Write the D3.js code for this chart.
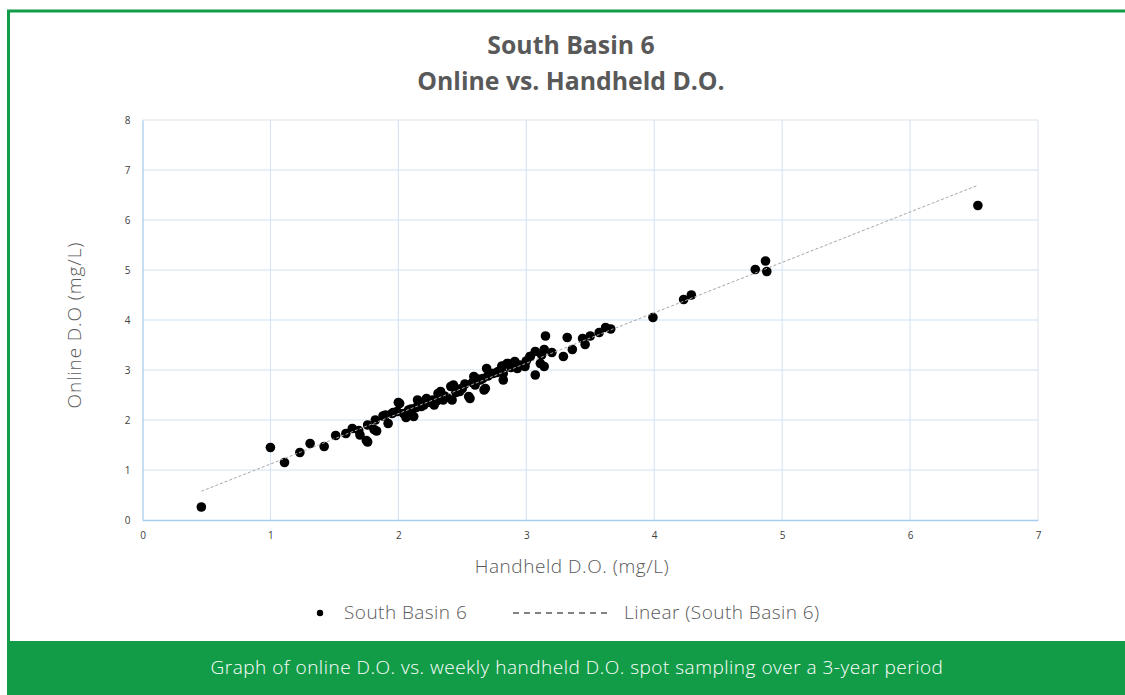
<!DOCTYPE html>
<html>
<head>
<meta charset="utf-8">
<script src="https://cdn.jsdelivr.net/npm/d3@7"></script>
<style>
  html, body { margin: 0; padding: 0; background: #fff; }
  svg { display: block; }
</style>
</head>
<body>
<svg id="chart" width="1125" height="695"></svg>
<script>
// handheld D.O. readings (mg/L)
const handheld = [
  0.46, 1.00, 1.11, 1.23, 1.31, 1.42, 1.51, 1.59, 1.64, 1.69, 1.70, 1.75, 1.76, 1.76,
  1.81, 1.83, 1.82, 1.88, 1.92, 1.95, 1.99, 2.00, 1.90, 1.96, 2.01, 2.04, 2.08, 2.12,
  2.15, 2.18, 2.22, 2.28, 2.31, 2.35, 2.41, 2.42, 2.46, 2.50, 2.55, 2.59, 2.64, 2.67,
  2.69, 2.74, 2.81, 2.82, 2.33, 2.43, 2.48, 2.56, 2.68, 2.81, 2.85, 2.91, 2.99, 3.03,
  3.07, 2.86, 2.93, 2.82, 2.73, 3.07, 3.12, 3.11, 3.14, 3.14, 3.03, 3.20, 3.29, 3.36,
  3.32, 3.44, 3.46, 3.50, 3.57, 3.62, 3.66, 3.15, 2.10, 2.25, 2.38, 2.52, 2.62, 2.77,
  2.95, 2.06, 2.20, 2.30, 2.45, 2.58, 2.70, 2.88, 2.14, 2.27, 2.36, 2.48, 2.60, 2.66,
  2.78, 3.00, 3.99, 4.23, 4.29, 4.79, 4.87, 4.88, 6.53
];
// online D.O. readings (mg/L), paired with handheld
const online = [
  0.26, 1.45, 1.15, 1.35, 1.53, 1.47, 1.69, 1.73, 1.83, 1.79, 1.70, 1.59, 1.90, 1.56,
  1.81, 1.78, 2.00, 2.08, 1.93, 2.13, 2.17, 2.35, 2.10, 2.15, 2.33, 2.13, 2.20, 2.07,
  2.40, 2.27, 2.43, 2.30, 2.53, 2.40, 2.67, 2.40, 2.57, 2.63, 2.47, 2.87, 2.80, 2.60,
  3.03, 2.93, 3.08, 2.80, 2.57, 2.70, 2.57, 2.43, 2.63, 3.07, 3.13, 3.17, 3.07, 3.27,
  2.90, 3.13, 3.03, 2.93, 2.93, 3.37, 3.30, 3.13, 3.41, 3.07, 3.27, 3.35, 3.27, 3.41,
  3.65, 3.63, 3.51, 3.68, 3.75, 3.85, 3.82, 3.68, 2.22, 2.35, 2.45, 2.72, 2.82, 2.95,
  3.10, 2.05, 2.30, 2.38, 2.55, 2.75, 2.88, 3.05, 2.25, 2.40, 2.48, 2.62, 2.70, 2.83,
  2.97, 3.18, 4.05, 4.41, 4.50, 5.01, 5.18, 4.97, 6.29
];

const xTicks = [0, 1, 2, 3, 4, 5, 6, 7];
const yTicks = [0, 1, 2, 3, 4, 5, 6, 7, 8];

const titleLines = ["South Basin 6", "Online vs. Handheld D.O."];
const xTitle = "Handheld D.O. (mg/L)";
const yTitle = "Online D.O (mg/L)";
const seriesName = "South Basin 6";
const trendName = "Linear (South Basin 6)";
const caption = "Graph of online D.O. vs. weekly handheld D.O. spot sampling over a 3-year period";

const green = "#139c48";
const lightFont = "'Open Sans', sans-serif";
const svg = d3.select("#chart");

const lightText = (sel, size, spacing) => sel
  .style("font-family", lightFont)
  .style("font-weight", 300)
  .style("font-size", size + "px")
  .style("letter-spacing", spacing + "px");

// frame
svg.append("rect")
  .attr("x", 8.5).attr("y", 11)
  .attr("width", 1130).attr("height", 640)
  .attr("fill", "#fff")
  .attr("stroke", green)
  .attr("stroke-width", 3);

svg.append("rect")
  .attr("x", 7).attr("y", 641)
  .attr("width", 1118).attr("height", 54)
  .attr("fill", green);

svg.append("text")
  .attr("x", 577).attr("y", 674)
  .attr("text-anchor", "middle")
  .attr("fill", "#fff")
  .call(lightText, 19, 0.5)
  .text(caption);

// title
svg.append("g").selectAll("text")
  .data(titleLines)
  .join("text")
  .attr("x", 571)
  .attr("y", (d, i) => 54 + i * 36)
  .attr("text-anchor", "middle")
  .attr("fill", "#595959")
  .style("font-family", "'Open Sans', sans-serif")
  .style("font-weight", "bold")
  .style("font-size", "24.8px")
  .text(d => d);

const margins = { left: 142.5, top: 120, right: 1038, bottom: 520 };

const x = d3.scaleLinear().domain([0, 7]).range([margins.left, margins.right]);
const y = d3.scaleLinear().domain([0, 8]).range([margins.bottom, margins.top]);

// grid
const grid = svg.append("g").attr("class", "grid");
grid.selectAll(".vx")
  .data(xTicks.slice(1))
  .join("line")
  .attr("x1", d => x(d)).attr("x2", d => x(d))
  .attr("y1", y(0)).attr("y2", y(8))
  .attr("stroke", d => d === 7 ? "#dbe2ea" : "#cfe2f5")
  .attr("stroke-width", 1);
grid.selectAll(".hy")
  .data(yTicks.slice(1))
  .join("line")
  .attr("x1", x(0)).attr("x2", x(7))
  .attr("y1", d => y(d)).attr("y2", d => y(d))
  .attr("stroke", d => d === 8 ? "#dbe2ea" : "#cfe2f5")
  .attr("stroke-width", 1);

// axes
const xAxis = svg.append("g")
  .attr("transform", `translate(0,${y(0)})`)
  .call(d3.axisBottom(x).tickValues(xTicks).tickFormat(d3.format("d")).tickSize(0).tickPadding(12));
const yAxis = svg.append("g")
  .attr("transform", `translate(${x(0)},0)`)
  .call(d3.axisLeft(y).tickValues(yTicks).tickFormat(d3.format("d")).tickSize(0).tickPadding(12));

[xAxis, yAxis].forEach(a => {
  a.select(".domain").attr("stroke", "#a9cdf0").attr("stroke-width", 1.3);
  a.selectAll("text")
    .attr("fill", "#404040")
    .style("font-family", "'Open Sans', sans-serif")
    .style("font-size", "10px");
});

svg.append("text")
  .attr("x", 572).attr("y", 573)
  .attr("text-anchor", "middle")
  .attr("fill", "#595959")
  .call(lightText, 19, 0.55)
  .text(xTitle);

svg.append("text")
  .attr("transform", `translate(81,325) rotate(-90)`)
  .attr("text-anchor", "middle")
  .attr("fill", "#595959")
  .call(lightText, 19, 0.9)
  .text(yTitle);

// linear fit
const mx = d3.mean(handheld), my = d3.mean(online);
const slope = d3.sum(handheld, (v, i) => (v - mx) * (online[i] - my)) /
  d3.sum(handheld, v => (v - mx) * (v - mx));
const intercept = my - slope * mx;
const xExt = d3.extent(handheld);

const points = handheld.map((h, i) => ({ h, o: online[i] }));

svg.append("g").selectAll("circle")
  .data(points)
  .join("circle")
  .attr("cx", d => x(d.h))
  .attr("cy", d => y(d.o))
  .attr("r", 4.8)
  .attr("fill", "#000");

svg.append("line")
  .attr("x1", x(xExt[0])).attr("y1", y(intercept + slope * xExt[0]))
  .attr("x2", x(xExt[1])).attr("y2", y(intercept + slope * xExt[1]))
  .attr("stroke", "#a6a6a6")
  .attr("stroke-width", 1)
  .attr("stroke-dasharray", "3,2");

// legend
const legend = svg.append("g").attr("class", "legend");
legend.append("circle")
  .attr("cx", 320).attr("cy", 613).attr("r", 3.2).attr("fill", "#000");
legend.append("text")
  .attr("x", 344).attr("y", 619)
  .attr("fill", "#595959")
  .call(lightText, 19, 0.45)
  .text(seriesName);
legend.append("line")
  .attr("x1", 513).attr("x2", 608)
  .attr("y1", 613).attr("y2", 613)
  .attr("stroke", "#595959")
  .attr("stroke-width", 1.3)
  .attr("stroke-dasharray", "6,5");
legend.append("text")
  .attr("x", 624).attr("y", 619)
  .attr("fill", "#595959")
  .call(lightText, 19, 0.45)
  .text(trendName);
</script>
</body>
</html>
